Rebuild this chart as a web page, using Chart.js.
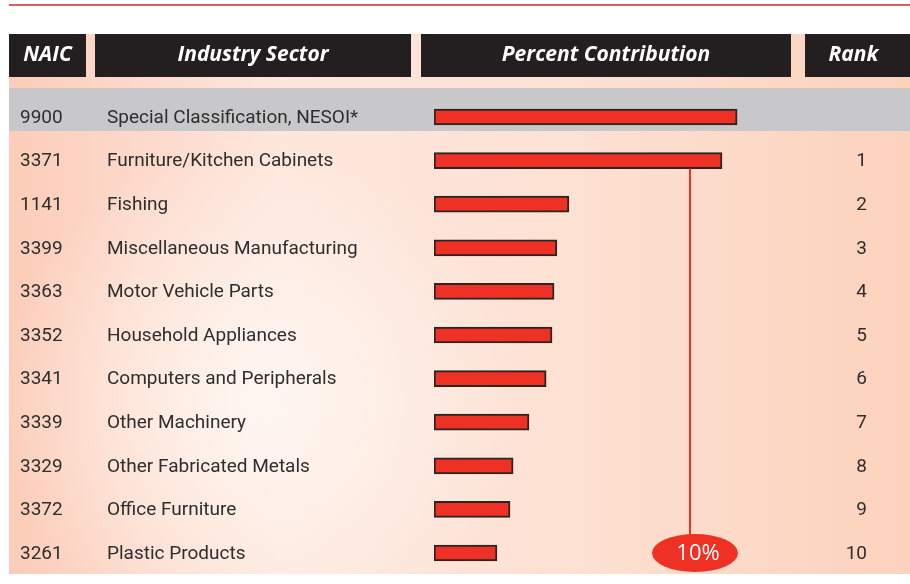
<!DOCTYPE html>
<html lang="en">
<head>
    <meta charset="UTF-8">
    <title>Industry Sector Contribution</title>
    <style>
        body { margin: 0; background-color: white; }
        #wrap { width: 910px; height: 584px; }
    </style>
    <script src="https://cdn.jsdelivr.net/npm/chart.js"></script>
</head>
<body>
    <div id="wrap"><canvas id="sectorChart" width="910" height="584"></canvas></div>

    <script>
        // Table data
        const codes = ['9900', '3371', '1141', '3399', '3363', '3352', '3341', '3339', '3329', '3372', '3261'];
        const sectors = [
            'Special Classification, NESOI*', 'Furniture/Kitchen Cabinets', 'Fishing',
            'Miscellaneous Manufacturing', 'Motor Vehicle Parts', 'Household Appliances',
            'Computers and Peripherals', 'Other Machinery', 'Other Fabricated Metals',
            'Office Furniture', 'Plastic Products'
        ];
        const shares = [11.84, 11.25, 5.27, 4.80, 4.69, 4.61, 4.38, 3.71, 3.09, 2.97, 2.46];
        const ranks = ['', '1', '2', '3', '4', '5', '6', '7', '8', '9', '10'];
        const headers = ['NAIC', 'Industry Sector', 'Percent Contribution', 'Rank'];
        const markerValue = 10;

        const red = '#ee3124';
        const dark = '#231f20';

        // background, header boxes and the grey "special" row
        const backdrop = {
            id: 'backdrop',
            beforeDraw(chart) {
                const ctx = chart.ctx;
                const y = chart.scales.y;
                ctx.save();
                ctx.fillStyle = 'white';
                ctx.fillRect(0, 0, 910, 584);

                let lin = ctx.createLinearGradient(9, 0, 910, 0);
                lin.addColorStop(0, '#fccdb9');
                lin.addColorStop(0.3, '#fee6dc');
                lin.addColorStop(0.6, '#fde2d4');
                lin.addColorStop(1, '#fcd2bd');
                ctx.fillStyle = lin;
                ctx.fillRect(9, 34, 901, 540);
                let rad = ctx.createRadialGradient(260, 400, 0, 260, 400, 260);
                rad.addColorStop(0, 'rgba(255,250,246,0.85)');
                rad.addColorStop(1, 'rgba(255,250,246,0)');
                ctx.fillStyle = rad;
                ctx.fillRect(9, 131, 901, 443);

                // red rule at the top
                ctx.fillStyle = '#e25c68';
                ctx.fillRect(9, 4, 901, 2);

                // grey row behind the first category
                const r0 = y.getPixelForValue(0);
                ctx.fillStyle = '#c8c8ca';
                ctx.fillRect(9, r0 - 29, 901, 43);

                // header boxes
                const boxes = [[9, 77], [95, 316], [421, 370], [805, 105]];
                ctx.font = 'italic bold 21px "Open Sans"';
                ctx.textAlign = 'center';
                ctx.textBaseline = 'middle';
                boxes.forEach((b, i) => {
                    ctx.fillStyle = dark;
                    ctx.fillRect(b[0], 34, b[1], 43);
                    ctx.fillStyle = 'white';
                    ctx.fillText(headers[i], b[0] + b[1] / 2 - (i == 3 ? 4 : 0), 55);
                });
                ctx.restore();
            }
        };

        // row labels, ranks and the 10% marker
        const rowText = {
            id: 'rowText',
            afterDatasetsDraw(chart) {
                const ctx = chart.ctx;
                const x = chart.scales.x;
                const y = chart.scales.y;
                ctx.save();
                ctx.fillStyle = '#2e2e2e';
                ctx.font = '19px Roboto';
                ctx.textBaseline = 'middle';
                codes.forEach((c, i) => {
                    const py = y.getPixelForValue(i) + 1;
                    ctx.textAlign = 'left';
                    ctx.fillText(c, 20, py);
                    ctx.fillText(sectors[i], 107, py);
                    ctx.textAlign = 'right';
                    ctx.fillText(ranks[i], 867, py);
                });

                const mx = x.getPixelForValue(markerValue);
                const top = y.getPixelForValue(1) + 8;
                const last = y.getPixelForValue(codes.length - 1);
                ctx.strokeStyle = red;
                ctx.lineWidth = 2;
                ctx.beginPath();
                ctx.moveTo(mx, top);
                ctx.lineTo(mx, last - 18);
                ctx.stroke();

                ctx.fillStyle = red;
                ctx.beginPath();
                ctx.ellipse(mx + 5, last, 43, 19, 0, 0, Math.PI * 2);
                ctx.fill();
                ctx.fillStyle = 'white';
                ctx.font = '22px "Open Sans"';
                ctx.textAlign = 'center';
                ctx.fillText(markerValue + '%', mx + 8, last + 1);
                ctx.restore();
            }
        };

        new Chart(document.getElementById('sectorChart'), {
            type: 'bar',
            data: {
                labels: sectors,
                datasets: [{
                    data: shares,
                    backgroundColor: red,
                    borderColor: '#2a2422',
                    borderWidth: 2,
                    borderSkipped: false,
                    barThickness: 16
                }]
            },
            options: {
                indexAxis: 'y',
                responsive: false,
                animation: false,
                layout: { padding: { left: 434, right: 15.2, top: 95.2, bottom: 9.2 } },
                scales: {
                    x: { display: false, min: 0, max: 18 },
                    y: { display: false }
                },
                plugins: {
                    legend: { display: false },
                    tooltip: { enabled: false }
                }
            },
            plugins: [backdrop, rowText]
        });
    </script>
</body>
</html>
